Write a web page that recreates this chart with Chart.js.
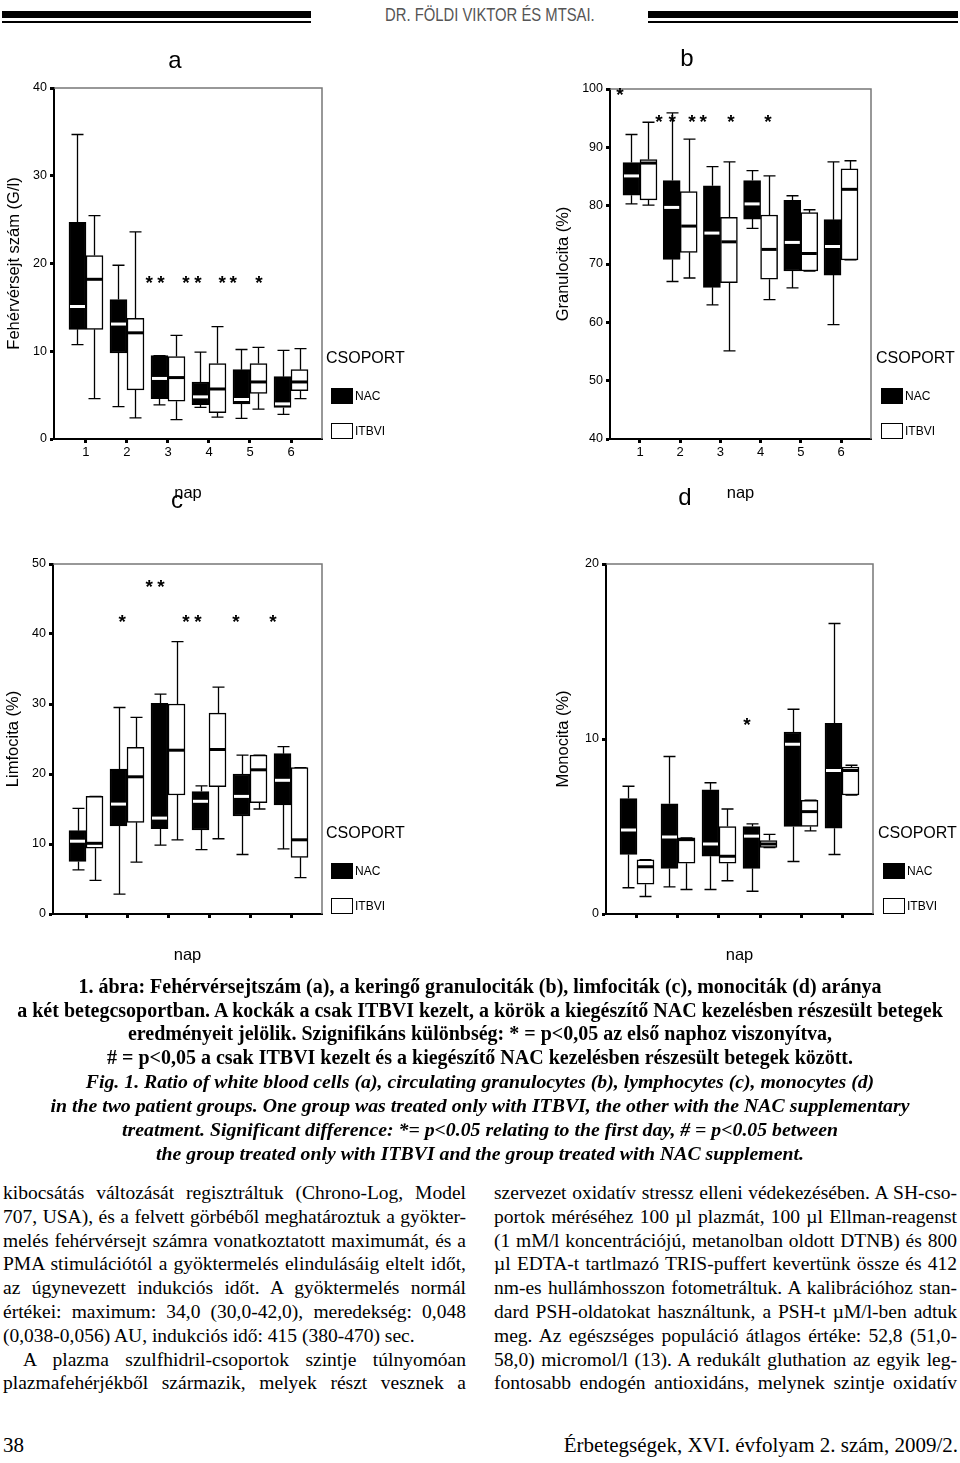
<!DOCTYPE html>
<html>
<head>
<meta charset="utf-8">
<script src="https://cdn.jsdelivr.net/npm/chart.js@4.4.0/dist/chart.umd.min.js"></script>
<style>
  body { margin: 0; width: 960px; height: 1463px; position: relative; background: #fff; overflow: hidden; }
  .abs { position: absolute; }
  canvas { position: absolute; }
  .bar { position: absolute; background: #000; }
  .hdr { font-family: "Liberation Sans", Arial, sans-serif; font-size: 19px; color: #555; transform: scaleX(0.78); transform-origin: left top; white-space: nowrap; }
  .letter { font-family: "Liberation Sans", Arial, sans-serif; font-size: 24px; line-height: 1; transform: translate(-50%, -50%); }
  .cap { position: absolute; left: 0; width: 960px; text-align: center; white-space: nowrap;
         font-family: "Liberation Serif", "Times New Roman", serif; font-weight: bold; font-size: 20px; line-height: 24px; }
  .cap.en { font-style: italic; font-size: 19.8px; }
  .col { position: absolute; width: 463px; font-family: "Liberation Serif", "Times New Roman", serif; font-size: 19.5px; }
  .col div { height: 23.8px; line-height: 23.8px; white-space: nowrap; text-align: justify; text-align-last: justify; }
  .col div.last { text-align: left; text-align-last: left; }
  .col div.ind { padding-left: 20px; }
  .foot { font-family: "Liberation Serif", "Times New Roman", serif; font-size: 21px; white-space: nowrap; }
</style>
</head>
<body>

<div class="bar" style="left:2px;top:11px;width:309px;height:7px"></div>
<div class="bar" style="left:2px;top:21px;width:309px;height:2px"></div>
<div class="bar" style="left:648px;top:11px;width:310px;height:7px"></div>
<div class="bar" style="left:648px;top:21px;width:310px;height:2px"></div>
<div class="abs hdr" style="left:385px;top:4px">DR. FÖLDI VIKTOR ÉS MTSAI.</div>

<canvas id="chartA" width="480" height="470" style="left:0;top:40px"></canvas>
<canvas id="chartB" width="480" height="470" style="left:480px;top:40px"></canvas>
<canvas id="chartC" width="480" height="470" style="left:0;top:510px"></canvas>
<canvas id="chartD" width="480" height="470" style="left:480px;top:510px"></canvas>

<div class="abs letter" style="left:175px;top:60px">a</div>
<div class="abs letter" style="left:687px;top:58px">b</div>
<div class="abs letter" style="left:177px;top:500px">c</div>
<div class="abs letter" style="left:685px;top:497px">d</div>

<div class="cap" style="top:974px">1. ábra: Fehérvérsejtszám (a), a keringő granulociták (b), limfociták (c), monociták (d) aránya</div>
<div class="cap" style="top:998px">a két betegcsoportban. A kockák a csak ITBVI kezelt, a körök a kiegészítő NAC kezelésben részesült betegek</div>
<div class="cap" style="top:1021px">eredményeit jelölik. Szignifikáns különbség: * = p&lt;0,05 az első naphoz viszonyítva,</div>
<div class="cap" style="top:1045px"># = p&lt;0,05 a csak ITBVI kezelt és a kiegészítő NAC kezelésben részesült betegek között.</div>
<div class="cap en" style="top:1069px">Fig. 1. Ratio of white blood cells (a), circulating granulocytes (b), lymphocytes (c), monocytes (d)</div>
<div class="cap en" style="top:1093px">in the two patient groups. One group was treated only with ITBVI, the other with the NAC supplementary</div>
<div class="cap en" style="top:1117px">treatment. Significant difference: *= p&lt;0.05 relating to the first day, # = p&lt;0.05 between</div>
<div class="cap en" style="top:1141px">the group treated only with ITBVI and the group treated with NAC supplement.</div>

<div class="col" style="left:3px;top:1181px">
  <div>kibocsátás változását regisztráltuk (Chrono-Log, Model</div>
  <div>707, USA), és a felvett görbéből meghatároztuk a gyökter-</div>
  <div>melés fehérvérsejt számra vonatkoztatott maximumát, és a</div>
  <div>PMA stimulációtól a gyöktermelés elindulásáig eltelt időt,</div>
  <div>az úgynevezett indukciós időt. A gyöktermelés normál</div>
  <div>értékei: maximum: 34,0 (30,0-42,0), meredekség: 0,048</div>
  <div class="last">(0,038-0,056) AU, indukciós idő: 415 (380-470) sec.</div>
  <div class="ind">A plazma szulfhidril-csoportok szintje túlnyomóan</div>
  <div>plazmafehérjékből származik, melyek részt vesznek a</div>
</div>
<div class="col" style="left:494px;top:1181px">
  <div>szervezet oxidatív stressz elleni védekezésében. A SH-cso-</div>
  <div>portok méréséhez 100 µl plazmát, 100 µl Ellman-reagenst</div>
  <div>(1 mM/l koncentrációjú, metanolban oldott DTNB) és 800</div>
  <div>µl EDTA-t tartlmazó TRIS-puffert kevertünk össze és 412</div>
  <div>nm-es hullámhosszon fotometráltuk. A kalibrációhoz stan-</div>
  <div>dard PSH-oldatokat használtunk, a PSH-t µM/l-ben adtuk</div>
  <div>meg. Az egészséges populáció átlagos értéke: 52,8 (51,0-</div>
  <div>58,0) micromol/l (13). A redukált gluthation az egyik leg-</div>
  <div>fontosabb endogén antioxidáns, melynek szintje oxidatív</div>
</div>

<div class="abs foot" style="left:3px;top:1433px">38</div>
<div class="abs foot" style="right:2px;top:1433px">Érbetegségek, XVI. évfolyam 2. szám, 2009/2.</div>

<script>
const days = [1, 2, 3, 4, 5, 6];
const groupNames = ['NAC', 'ITBVI'];

// box summaries per day: [min, Q1, median, Q3, max]
const wbcNac = [[10.75, 12.5, 15.1, 24.7, 34.7], [3.7, 9.8, 13.1, 15.9, 19.8], [3.9, 4.6, 6.9, 9.5, 9.5],
                [3.6, 3.9, 4.8, 6.5, 9.9], [2.35, 4.0, 4.5, 7.9, 10.2], [2.8, 3.6, 4.0, 7.1, 10.1]];
const wbcItbvi = [[4.6, 12.5, 18.2, 20.9, 25.45], [2.4, 5.6, 12.1, 13.75, 23.6], [2.2, 4.3, 7.0, 9.4, 11.8],
                  [2.5, 3.0, 5.7, 8.6, 12.8], [3.4, 5.2, 6.5, 8.6, 10.45], [4.6, 5.5, 6.5, 7.9, 10.3]];
const granNac = [[80.3, 81.8, 85.1, 87.4, 92.2], [67.0, 70.8, 79.7, 84.3, 95.9], [63.0, 66.0, 75.3, 83.4, 86.7],
                 [76.1, 77.7, 80.3, 84.3, 86.0], [65.9, 68.8, 73.7, 80.9, 81.7], [59.6, 68.1, 73.0, 77.6, 87.5]];
const granItbvi = [[80.1, 81.0, 87.3, 87.9, 94.3], [67.6, 72.0, 76.5, 82.4, 91.4], [55.1, 66.8, 73.8, 78.0, 87.5],
                   [63.9, 67.4, 72.5, 78.4, 85.1], [68.8, 68.8, 71.8, 78.8, 79.3], [70.7, 70.7, 82.8, 86.3, 87.7]];
const lymphNac = [[6.3, 7.5, 10.4, 11.9, 15.1], [2.85, 12.6, 15.7, 20.7, 29.5], [9.85, 12.2, 13.7, 30.1, 31.4],
                  [9.2, 12.0, 16.1, 17.5, 18.3], [8.5, 14.0, 16.8, 20.0, 22.7], [9.3, 15.6, 19.1, 22.9, 23.9]];
const lymphItbvi = [[4.8, 9.4, 10.1, 16.8, 16.8], [7.4, 13.1, 19.6, 23.8, 28.1], [10.6, 17.0, 23.4, 30.0, 38.9],
                    [10.75, 18.2, 23.5, 28.7, 32.4], [15.0, 15.9, 20.6, 22.7, 22.7], [5.2, 8.1, 10.6, 20.9, 20.9]];
const monoNac = [[1.5, 3.4, 4.8, 6.6, 7.3], [1.55, 2.6, 4.4, 6.3, 9.0], [1.4, 3.3, 4.0, 7.1, 7.5],
                 [1.3, 2.6, 4.45, 5.0, 5.15], [3.0, 5.0, 9.7, 10.4, 11.7], [3.4, 4.9, 8.2, 10.9, 16.6]];
const monoItbvi = [[1.0, 1.7, 2.7, 3.1, 3.1], [1.4, 2.9, 4.25, 4.35, 4.35], [1.9, 2.9, 3.3, 5.0, 6.0],
                   [3.8, 3.8, 4.0, 4.2, 4.55], [4.75, 5.0, 5.85, 6.5, 6.5], [6.8, 6.8, 8.2, 8.4, 8.5]];

// significance asterisks (x in days, y in axis units)
const wbcStarX = [2.54, 2.83, 3.44, 3.73, 4.32, 4.59, 5.22];
const wbcStarY = [18.35, 18.35, 18.35, 18.35, 18.35, 18.35, 18.35];
const granStarX = [0.5, 1.47, 1.8, 2.29, 2.57, 3.26, 4.18];
const granStarY = [99.8, 95.25, 95.25, 95.25, 95.25, 95.25, 95.25];
const lymphStarX = [1.88, 2.54, 2.83, 3.44, 3.73, 4.66, 5.56];
const lymphStarY = [42.4, 47.5, 47.5, 42.4, 42.4, 42.4, 42.4];
const monoStarX = [3.68];
const monoStarY = [11.1];

Chart.defaults.font.family = '"Liberation Sans", Arial, sans-serif';
Chart.defaults.color = '#000';

// whiskers + caps under the boxes, medians on top
const boxParts = {
  id: 'boxParts',
  beforeDatasetsDraw(chart) {
    const ctx = chart.ctx, y = chart.scales.y;
    ctx.save();
    ctx.strokeStyle = '#000';
    ctx.lineWidth = 1.3;
    chart.data.datasets.forEach((ds, di) => {
      chart.getDatasetMeta(di).data.forEach((bar, i) => {
        const s = ds.summary[i];
        const x = Math.round(bar.x) + 0.5;
        const yMin = y.getPixelForValue(s[0]), yMax = y.getPixelForValue(s[4]);
        ctx.beginPath();
        ctx.moveTo(x, yMax); ctx.lineTo(x, y.getPixelForValue(s[3]));
        ctx.moveTo(x, y.getPixelForValue(s[1])); ctx.lineTo(x, yMin);
        ctx.moveTo(x - 6, yMax); ctx.lineTo(x + 6, yMax);
        ctx.moveTo(x - 6, yMin); ctx.lineTo(x + 6, yMin);
        ctx.stroke();
      });
    });
    ctx.restore();
  },
  afterDatasetsDraw(chart) {
    const ctx = chart.ctx, y = chart.scales.y;
    ctx.save();
    ctx.lineWidth = 3;
    chart.data.datasets.forEach((ds, di) => {
      ctx.strokeStyle = ds.medianColor;
      chart.getDatasetMeta(di).data.forEach((bar, i) => {
        const ym = y.getPixelForValue(ds.summary[i][2]);
        ctx.beginPath();
        ctx.moveTo(bar.x - bar.width / 2 + 1, ym);
        ctx.lineTo(bar.x + bar.width / 2 - 1, ym);
        ctx.stroke();
      });
    });
    ctx.restore();
  }
};

const starMarks = {
  id: 'starMarks',
  afterDatasetsDraw(chart, args, opts) {
    const ctx = chart.ctx, sx = chart.scales.x, sy = chart.scales.y;
    ctx.save();
    ctx.fillStyle = '#000';
    ctx.font = 'bold 19px "Liberation Sans", Arial, sans-serif';
    ctx.textAlign = 'center';
    ctx.textBaseline = 'alphabetic';
    opts.x.forEach((v, i) => {
      ctx.fillText('*', sx.getPixelForValue(v), sy.getPixelForValue(opts.y[i]) + 11);
    });
    ctx.restore();
  }
};

// gray top/right frame of the plot
const plotFrame = {
  id: 'plotFrame',
  beforeDatasetsDraw(chart) {
    const {ctx, chartArea: a} = chart;
    ctx.save();
    ctx.strokeStyle = '#777';
    ctx.lineWidth = 1.5;
    ctx.beginPath();
    ctx.moveTo(a.left, a.top);
    ctx.lineTo(a.right, a.top);
    ctx.lineTo(a.right, a.bottom);
    ctx.stroke();
    ctx.restore();
  }
};

// SPSS style group legend at the lower right
const groupLegend = {
  id: 'groupLegend',
  afterDraw(chart, args, opts) {
    const {ctx, chartArea: a} = chart;
    ctx.save();
    ctx.textBaseline = 'middle';
    ctx.fillStyle = '#000';
    ctx.font = '16px "Liberation Sans", Arial, sans-serif';
    ctx.fillText(opts.title, a.right + opts.dx, a.bottom - 80);
    ctx.font = '12px "Liberation Sans", Arial, sans-serif';
    chart.data.datasets.forEach((ds, i) => {
      const top = a.bottom - 51 + i * 35;
      const left = a.right + opts.dx + 5;
      ctx.fillStyle = ds.backgroundColor;
      ctx.fillRect(left, top, 22, 16);
      ctx.strokeStyle = '#000';
      ctx.lineWidth = 1;
      ctx.strokeRect(left + 0.5, top + 0.5, 21, 15);
      ctx.fillStyle = '#000';
      ctx.fillText(ds.label, left + 24, top + 9);
    });
    ctx.restore();
  }
};

function makePanel(id, p) {
  const boxSet = (label, summary, fill, median) => ({
    label: label,
    data: summary.map((s, i) => ({x: days[i], y: [s[1], s[3]]})),
    summary: summary,
    medianColor: median,
    backgroundColor: fill,
    borderColor: '#000',
    borderWidth: 1.5,
    borderSkipped: false,
    barThickness: 17
  });
  return new Chart(document.getElementById(id), {
    type: 'bar',
    data: {
      datasets: [
        boxSet(groupNames[0], p.nac, '#000', '#fff'),
        boxSet(groupNames[1], p.itbvi, '#fff', '#000')
      ]
    },
    options: {
      responsive: false,
      animation: false,
      layout: {padding: p.pad},
      scales: {
        x: {
          type: 'linear',
          min: p.xMin,
          max: p.xMax,
          offset: false,
          afterBuildTicks: s => { s.ticks = days.map(v => ({value: v})); },
          afterFit: s => { s.height = p.xh; },
          grid: {offset: false, drawOnChartArea: false, tickLength: 4, tickWidth: 3, tickColor: '#000'},
          border: {display: true, color: '#000', width: 2},
          ticks: {
            display: p.xLabels,
            padding: 2,
            font: {size: 13},
            callback: v => String(v)
          },
          title: {display: true, text: 'nap', font: {size: 16.5}, padding: {top: 0, bottom: p.xtPad}}
        },
        y: {
          min: p.yMin,
          max: p.yMax,
          stacked: false,
          afterFit: s => { s.width = p.yw; },
          ticks: {stepSize: 10, padding: 3, font: {size: 12.5}},
          grid: {drawOnChartArea: false, tickLength: 4, tickWidth: 3, tickColor: '#000'},
          border: {display: true, color: '#000', width: 2},
          title: {display: true, text: p.yTitle, font: {size: 16.5}, padding: {top: p.ytPad, bottom: 0}}
        }
      },
      plugins: {
        legend: {display: false},
        tooltip: {enabled: false},
        starMarks: {x: p.starX, y: p.starY},
        groupLegend: {title: 'CSOPORT', dx: p.legendDx}
      }
    },
    plugins: [plotFrame, boxParts, starMarks, groupLegend]
  });
}

makePanel('chartA', {
  nac: wbcNac, itbvi: wbcItbvi, yTitle: 'Fehérvérsejt szám (G/l)', yMin: 0, yMax: 40,
  xMin: 0.22, xMax: 6.756, xLabels: true, starX: wbcStarX, starY: wbcStarY,
  pad: {left: 0, top: 48, right: 158, bottom: 0}, yw: 54, xh: 71, ytPad: 4.1, xtPad: 7.1, legendDx: 4
});
makePanel('chartB', {
  nac: granNac, itbvi: granItbvi, yTitle: 'Granulocita (%)', yMin: 40, yMax: 100,
  xMin: 0.254, xMax: 6.746, xLabels: true, starX: granStarX, starY: granStarY,
  pad: {left: 70, top: 49, right: 89, bottom: 0}, yw: 60, xh: 71, ytPad: 3.1, xtPad: 7.1, legendDx: 5
});
makePanel('chartC', {
  nac: lymphNac, itbvi: lymphItbvi, yTitle: 'Limfocita (%)', yMin: 0, yMax: 50,
  xMin: 0.195, xMax: 6.756, xLabels: false, starX: lymphStarX, starY: lymphStarY,
  pad: {left: 0, top: 54, right: 158, bottom: 0}, yw: 53, xh: 66, ytPad: 3.1, xtPad: 15.1, legendDx: 4
});
makePanel('chartD', {
  nac: monoNac, itbvi: monoItbvi, yTitle: 'Monocita (%)', yMin: 0, yMax: 20,
  xMin: 0.244, xMax: 6.756, xLabels: false, starX: monoStarX, starY: monoStarY,
  pad: {left: 66, top: 54, right: 87, bottom: 0}, yw: 60, xh: 66, ytPad: 7.1, xtPad: 15.1, legendDx: 5
});
</script>
</body>
</html>
